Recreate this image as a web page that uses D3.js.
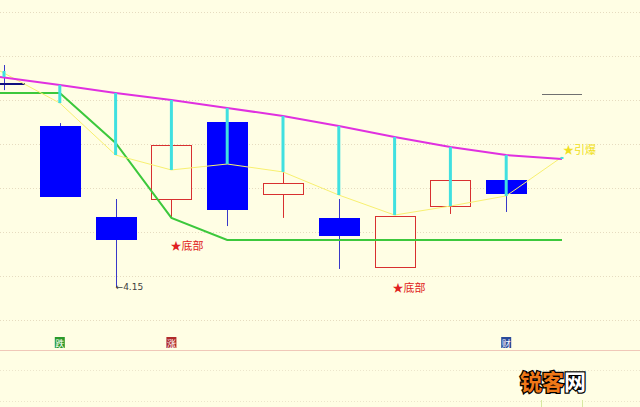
<!DOCTYPE html>
<html>
<head>
<meta charset="utf-8">
<script src="https://cdn.jsdelivr.net/npm/d3@7"></script>
<style>
    html, body { margin: 0; padding: 0; background: #fffee4; }
    svg { display: block; }
</style>
</head>
<body>
<div id="chart"></div>
<script>
// K线数据 (开, 收, 高, 低)
var opens  = [5.077, 4.882, 4.468, 4.550, 4.900, 4.573, 4.464, 4.241, 4.518, 4.636];
var closes = [5.068, 4.559, 4.364, 4.795, 4.500, 4.623, 4.382, 4.473, 4.636, 4.573];
var highs  = [5.159, 4.895, 4.550, 4.795, 4.900, 4.673, 4.550, 4.473, 4.636, 4.636];
var lows   = [5.045, 4.559, 4.150, 4.464, 4.427, 4.464, 4.232, 4.241, 4.482, 4.491];
// 均线
var maPink   = [5.105, 5.068, 5.032, 5.000, 4.964, 4.927, 4.882, 4.832, 4.786, 4.750, 4.732];
var maYellow = [5.132, 4.986, 4.750, 4.682, 4.709, 4.673, 4.568, 4.477, 4.518, 4.564, 4.741];
var maGreen  = [5.032, 5.032, 4.805, 4.464, 4.364, 4.364, 4.364, 4.364, 4.364, 4.364, 4.364];
var gridTicks = [4.0, 4.2, 4.4, 4.6, 4.8, 5.0, 5.2, 5.4];
// 标注
var marks = [
    {i: 3, price: 4.336, text: '★底部', color: '#e02020', dx: -1},
    {i: 7, price: 4.145, text: '★底部', color: '#e02020', dx: -2},
    {i: 10, price: 4.77, text: '★引爆', color: '#f0e020', dx: 1}
];
var flags = [
    {i: 1, text: '跌', color: '#2a9a2a'},
    {i: 3, text: '涨', color: '#b02a2a'},
    {i: 9, text: '财', color: '#2a4a9a'}
];

var W = 640, H = 407, bodyW = 40;
var svg = d3.select('#chart').append('svg').attr('width', W).attr('height', H);
svg.append('rect').attr('width', W).attr('height', H).attr('fill', '#fffee4');

var x = d3.scaleLinear().domain([0, 10]).range([4, 562]);
var y = d3.scaleLinear().domain([4.0, 5.4]).range([320, 12]);

// 网格线
svg.selectAll('line.grid').data(gridTicks).enter().append('line')
    .attr('class', 'grid')
    .attr('x1', 0).attr('x2', W)
    .attr('y1', function(d){ return Math.round(y(d)) + 0.5; })
    .attr('y2', function(d){ return Math.round(y(d)) + 0.5; })
    .style('stroke', '#e6dcc0').style('stroke-dasharray', '1,2');
[370, 401].forEach(function(yy){
    svg.append('line').attr('x1', 0).attr('x2', W).attr('y1', yy + 0.5).attr('y2', yy + 0.5)
        .style('stroke', '#ece6cc').style('stroke-dasharray', '1,2');
});
svg.append('line').attr('x1', 0).attr('x2', W).attr('y1', 350.5).attr('y2', 350.5)
    .style('stroke', '#f0c8b8');
[541, 582].forEach(function(xx){
    svg.append('line').attr('x1', xx + 0.5).attr('x2', xx + 0.5).attr('y1', 400).attr('y2', H)
        .style('stroke', '#d8e8a0');
});
svg.append('line').attr('x1', 542).attr('x2', 582).attr('y1', 94.5).attr('y2', 94.5)
    .style('stroke', '#707070');

// K线
var candles = svg.selectAll('g.candle').data(opens).enter().append('g').attr('class', 'candle');
candles.each(function(o, i){
    var $g = d3.select(this),
        c = closes[i],
        up = c > o,
        cx = Math.round(x(i)) + 0.5,
        top = Math.round(y(Math.max(o, c))),
        bot = Math.round(y(Math.min(o, c)));
    $g.append('line')
        .attr('x1', cx).attr('x2', cx)
        .attr('y1', y(highs[i])).attr('y2', y(lows[i]))
        .style('stroke', up ? '#d83030' : '#3838c8');
    if(up){
        $g.append('rect')
            .attr('x', cx - bodyW / 2).attr('y', top + 0.5)
            .attr('width', bodyW).attr('height', Math.max(bot - top, 1))
            .style('fill', '#fffee4').style('stroke', '#d83030');
    }else{
        $g.append('rect')
            .attr('x', cx - bodyW / 2 - 0.5).attr('y', top)
            .attr('width', bodyW + 1).attr('height', Math.max(bot - top, 2))
            .style('fill', i === 0 ? '#101080' : '#0000ff');
    }
});

// 第一个点贴左边
var line = d3.line()
    .x(function(d, i){ return i === 0 ? 0 : x(i); })
    .y(function(d){ return y(d); });

svg.append('path').datum(maGreen).attr('d', line)
    .style('fill', 'none').style('stroke', '#3cc83c').style('stroke-width', 2);
svg.append('path').datum(maYellow).attr('d', line)
    .style('fill', 'none').style('stroke', '#f8f070').style('stroke-width', 1);
svg.append('path').datum(maPink).attr('d', line)
    .style('fill', 'none').style('stroke', '#e030e0').style('stroke-width', 2);

// 青色柱: 粉线到黄线
svg.selectAll('line.cyan').data(maPink).enter().append('line')
    .attr('class', 'cyan')
    .attr('x1', function(d, i){ return x(i); })
    .attr('x2', function(d, i){ return x(i); })
    .attr('y1', function(d){ return y(d); })
    .attr('y2', function(d, i){ return y(maYellow[i]); })
    .style('stroke', '#40e0e0').style('stroke-width', 3);

// 标注文字
svg.selectAll('text.mark').data(marks).enter().append('text')
    .attr('class', 'mark')
    .attr('x', function(d){ return x(d.i) + d.dx; })
    .attr('y', function(d){ return y(d.price); })
    .attr('dy', '0.35em')
    .style('font-family', '"Noto Sans CJK SC", sans-serif')
    .style('font-size', '11px')
    .style('fill', function(d){ return d.color; })
    .text(function(d){ return d.text; });

var lowIdx = lows.indexOf(d3.min(lows));
svg.append('text')
    .attr('x', x(lowIdx)).attr('y', y(lows[lowIdx]))
    .attr('dy', '0.35em')
    .style('font-family', '"DejaVu Sans", sans-serif')
    .style('font-size', '9px').style('fill', '#404040')
    .text('←' + d3.format('.2f')(lows[lowIdx]));

// 底部标记
var fg = svg.selectAll('g.flag').data(flags).enter().append('g').attr('class', 'flag')
    .attr('transform', function(d){ return 'translate(' + (x(d.i) - 5) + ',337)'; });
fg.append('rect').attr('width', 10).attr('height', 11)
    .style('fill', function(d){ return d.color; });
fg.append('text').attr('x', 5).attr('y', 9.5)
    .attr('text-anchor', 'middle')
    .style('font-family', '"Noto Sans CJK SC", sans-serif')
    .style('font-size', '9px').style('fill', '#ffffff')
    .text(function(d){ return d.text; });

// 水印
var wm = svg.append('text').attr('x', 520).attr('y', 390)
    .style('font-family', '"Noto Sans CJK SC", sans-serif')
    .style('font-size', '22px').style('font-weight', 'bold')
    .style('stroke', '#000').style('stroke-width', 2.5).style('paint-order', 'stroke');
wm.append('tspan').style('fill', '#f07818').text('锐客');
wm.append('tspan').style('fill', '#ffffff').text('网');
</script>
</body>
</html>
